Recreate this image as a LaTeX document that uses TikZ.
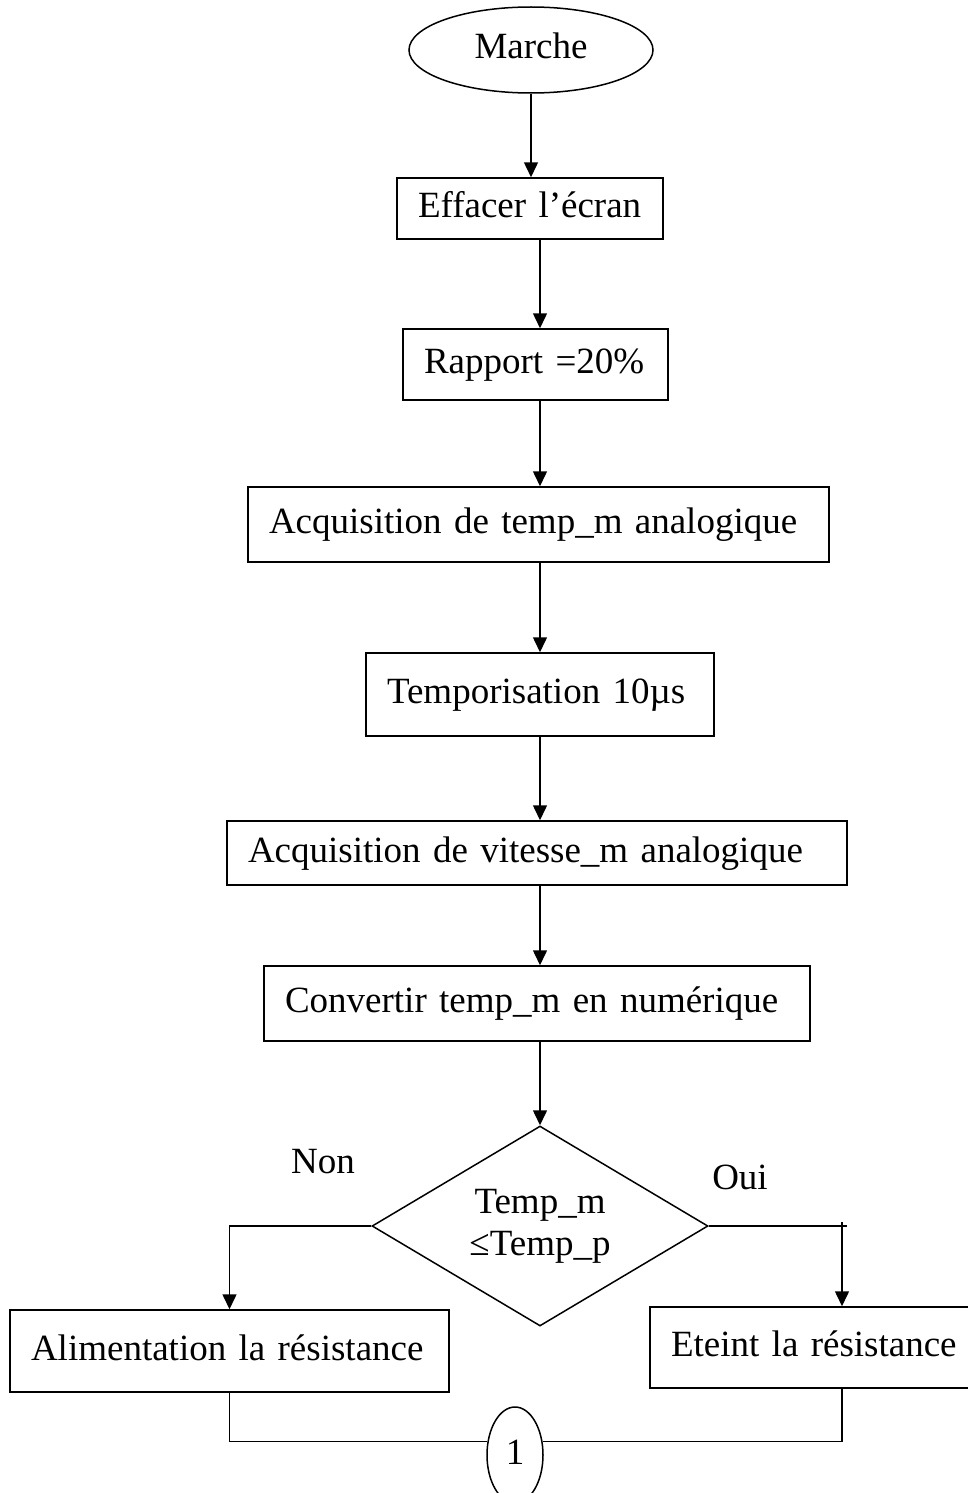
\documentclass[tikz,border=0pt]{standalone}
\usepackage{fontspec}
\setmainfont{Liberation Serif}
\usepackage{tikz}
\usetikzlibrary{arrows.meta, positioning, shapes.geometric}

\tikzset{
  txt/.style={font=\fontsize{37}{42}\selectfont},
  procbox/.style={draw, rectangle, line width=1.5pt, txt, inner xsep=21pt, inner ysep=0pt,
    align=left, text height=26pt, text depth=8pt},
  flow/.style={line width=1.5pt, -{Triangle[length=15pt,width=14pt]}},
  link/.style={line width=1.5pt}
}

\begin{document}
\begin{tikzpicture}[x=1pt, y=-1pt]
    \useasboundingbox (0,0) rectangle (968,1493);

    % Start
    \node[draw, ellipse, line width=1.5pt, txt, inner sep=0pt, minimum width=244pt,
      minimum height=86pt, text height=26pt, text depth=8pt] (marche) at (531,50) {Marche};

    % Sequence of steps
    \node[procbox, text width=224pt, minimum height=61pt] (effacer) at (530,208.5) {Effacer l’écran};
    \node[procbox, text width=223pt, minimum height=71pt] (rapport) at (535.5,364.5) {Rapport =20\%};
    \node[procbox, text width=539pt, minimum height=75pt] (acqtemp) at (538.5,524.5) {Acquisition de temp\_m analogique};
    \node[procbox, text width=306pt, minimum height=83pt] (tempo) at (540,694.5) {Temporisation 10µs};
    \node[procbox, text width=578pt, minimum height=64pt] (acqvit) at (537,853) {Acquisition de vitesse\_m analogique};
    \node[procbox, text width=504pt, minimum height=75pt] (convertir) at (537,1003.5) {Convertir temp\_m en numérique};

    % Decision
    \node[draw, diamond, aspect=1.68, line width=1.5pt, txt, align=center, inner sep=0pt,
      minimum width=336pt, minimum height=200pt] (test) at (540,1226) {Temp\_m\\≤Temp\_p};
    \node[txt, anchor=base] (non) at (323,1173) {Non};
    \node[txt, anchor=base] (oui) at (740,1189) {Oui};

    % Branches
    \node[procbox, text width=397pt, minimum height=82pt] (alim) at (229.5,1351) {Alimentation la résistance};
    \node[procbox, text width=342pt, minimum height=81pt] (eteint) at (842,1347.5) {Eteint la résistance};

    % Connector
    \node[draw, ellipse, line width=1.5pt, txt, inner sep=0pt, minimum width=56pt,
      minimum height=96pt, text height=26pt, text depth=8pt] (jonction) at (515,1455) {1};

    % Arrows
    \coordinate (axe) at (540,0);
    \draw[flow] (marche.south) -- (marche.south |- effacer.north);
    \draw[flow] (effacer.south -| axe) -- (rapport.north -| axe);
    \draw[flow] (rapport.south -| axe) -- (acqtemp.north -| axe);
    \draw[flow] (acqtemp.south -| axe) -- (tempo.north -| axe);
    \draw[flow] (tempo.south -| axe) -- (acqvit.north -| axe);
    \draw[flow] (acqvit.south -| axe) -- (convertir.north -| axe);
    \draw[flow] (convertir.south -| axe) -- (test.north);
    \draw[flow] (test.west) -| (alim.north);
    \draw[flow] (test.east) -| (eteint.north);
    \draw[link] (test.east -| eteint.north) ++(0,-4) -- ++(0,4) -- ++(5,0);
    \draw[link] (alim.south) |- (jonction.154);
    \draw[link] (eteint.south) |- (jonction.26);
\end{tikzpicture}
\end{document}
